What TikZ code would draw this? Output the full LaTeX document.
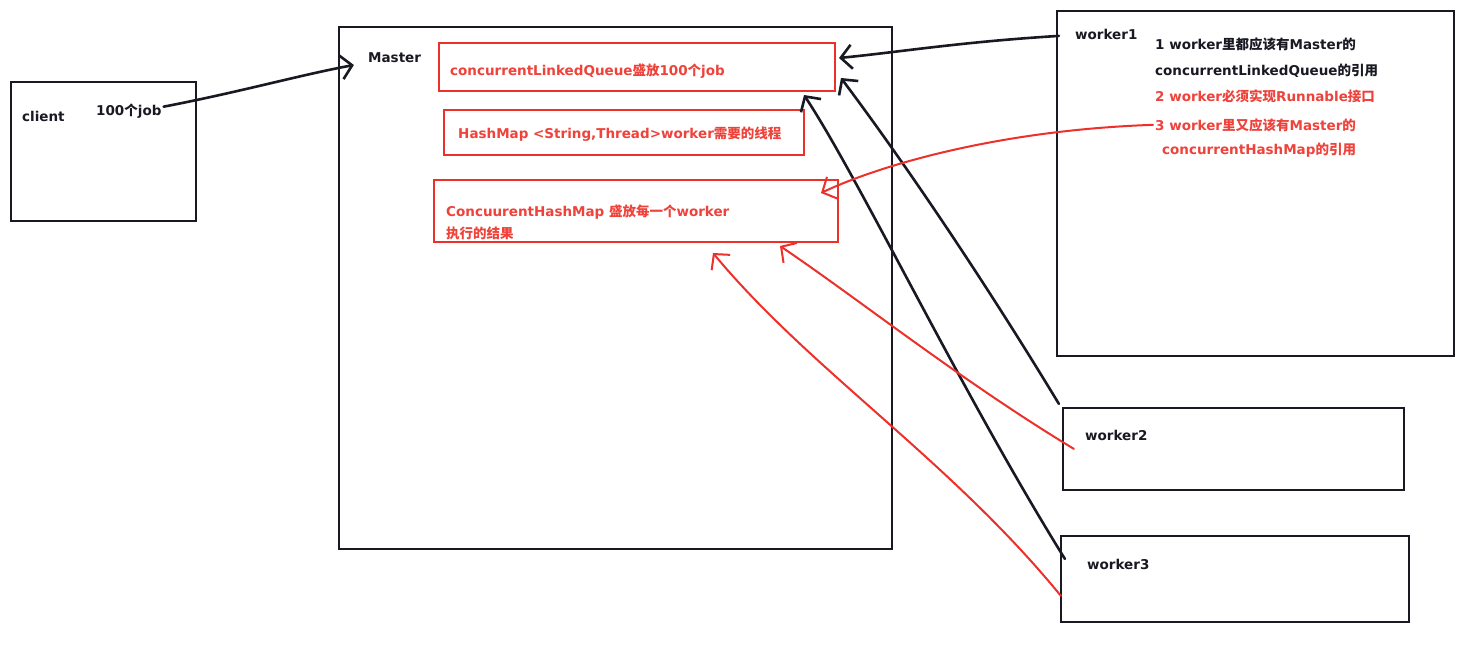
\documentclass[tikz,border=0pt]{standalone}
\usepackage{fontspec}
\usepackage{tikz}
\usetikzlibrary{arrows.meta}
\setmainfont{DejaVu Sans}
\newfontfamily\cjk{Noto Sans CJK SC}
\newcommand{\zh}[1]{{\cjk #1}}
\definecolor{ink}{RGB}{25,25,35}
\definecolor{pen}{RGB}{236,48,42}
\definecolor{redtxt}{RGB}{238,66,58}

\begin{document}
\begin{tikzpicture}[x=1pt,y=-1pt,
    box/.style={draw=ink,line width=2.2pt,inner sep=0pt},
    redbox/.style={draw=pen,line width=2pt,inner sep=0pt},
    txt/.style={anchor=base west,inner sep=0pt,text=ink,font=\bfseries\fontsize{13.5}{16}\selectfont},
    redtxt/.style={txt,text=redtxt},
    blackarrow/.style={draw=ink,line width=2.6pt,line cap=round,-{Straight Barb[length=11pt,width=24pt]}},
    redarrow/.style={draw=pen,line width=2pt,line cap=round,-{Straight Barb[length=11pt,width=24pt]}}]
                \useasboundingbox[fill=white] (0,0) rectangle (1481,645);
                \node[box,minimum width=185pt,minimum height=139pt] (client) at (103.5,151.5) {};
                \node[box,minimum width=553pt,minimum height=522pt] (master) at (615.5,288) {};
                \node[redbox,minimum width=396pt,minimum height=48pt] (queue) at (637,67) {};
                \node[redbox,minimum width=360pt,minimum height=45pt] (hashmap) at (624,132.5) {};
                \node[redbox,minimum width=404pt,minimum height=62pt] (result) at (636,211) {};
                \node[box,minimum width=397pt,minimum height=345pt] (worker1) at (1255.5,183.5) {};
                \node[box,minimum width=341pt,minimum height=82pt] (worker2) at (1233.5,449) {};
                \node[box,minimum width=348pt,minimum height=86pt] (worker3) at (1235,579) {};

                \node[txt] (clientlbl) at (22,121) {client};
                \node[txt] (jobs) at (96,115) {100\zh{个}job};
                \node[txt] (masterlbl) at (368,62) {Master};
                \node[redtxt] (queuelbl) at (450,75) {concurrentLinkedQueue\zh{盛放}100\zh{个}job};
                \node[redtxt] (hashmaplbl) at (458,138) {HashMap <String,Thread>worker\zh{需要的线程}};
                \node[redtxt] (resultlbl) at (446,216) {ConcuurentHashMap \zh{盛放每一个}worker};
                \node[redtxt] (resultlbl2) at (446,238) {\zh{执行的结果}};
                \node[txt] (w1lbl) at (1075,39) {worker1};
                \node[txt] (note1) at (1155,49) {1 worker\zh{里都应该有}Master\zh{的}};
                \node[txt] (note2) at (1155,75) {concurrentLinkedQueue\zh{的引用}};
                \node[redtxt] (note3) at (1155,101) {2 worker\zh{必须实现}Runnable\zh{接口}};
                \node[redtxt] (note4) at (1155,130) {3 worker\zh{里又应该有}Master\zh{的}};
                \node[redtxt] (note5) at (1162,154) {concurrentHashMap\zh{的引用}};
                \node[txt] (w2lbl) at (1085,440) {worker2};
                \node[txt] (w3lbl) at (1087,569) {worker3};

                \draw[blackarrow] ([shift={(2,-4)}]jobs.east) .. controls (240,92) and (300,75) .. ([shift={(16,-223)}]master.west);
                \draw[blackarrow] ([shift={(3,26)}]worker1.north west) .. controls (960,42) and (900,52) .. ([shift={(3,-9)}]queue.east);
                \draw[blackarrow] ([shift={(-3,-3)}]worker2.north west) .. controls (990,290) and (910,170) .. ([shift={(5,11)}]queue.east);
                \draw[blackarrow] ([shift={(5,24)}]worker3.north west) .. controls (960,390) and (860,180) .. ([shift={(-32,28)}]queue.east);
                \draw[redarrow] ([xshift=-2pt]note4.west) .. controls (1000,130) and (880,165) .. ([shift={(-18,-18)}]result.east);
                \draw[redarrow] ([shift={(12,42)}]worker2.north west) .. controls (960,380) and (860,300) .. ([shift={(144,3)}]result.south);
                \draw[redarrow] ([shift={(1,61)}]worker3.north west) .. controls (950,460) and (810,370) .. ([shift={(77,10)}]result.south);
\end{tikzpicture}
\end{document}
